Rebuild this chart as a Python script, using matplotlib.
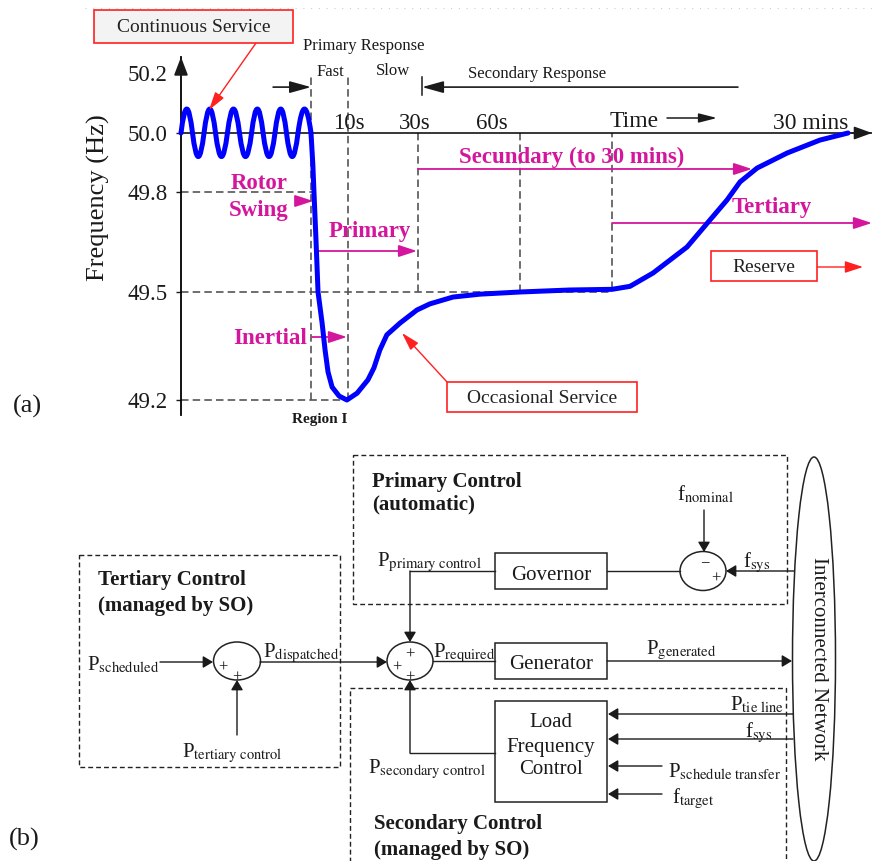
import numpy as np
import matplotlib
matplotlib.use('Agg')
import matplotlib.pyplot as plt
from matplotlib.path import Path
from matplotlib.patches import PathPatch, Rectangle, Ellipse

plt.rcParams['font.family'] = ['Liberation Serif', 'DejaVu Serif']
plt.rcParams['mathtext.fontset'] = 'stix'

# ---------------- (a) frequency response data ----------------
freq_ticks = [49.2, 49.5, 49.8, 50.0, 50.2]
freq_labels = ['49.2', '49.5', '49.8', '50.0', '50.2']

# continuous service: zero crossings (s) and the peak of each half wave (Hz)
osc_cross_t = [-35, -31.9, -28.8, -25.7, -22.5, -19.25, -16.0, -12.9, -9.7, -6.6, -3.5, 0]
osc_peak_f = [50.08, 49.92, 50.08, 49.92, 50.08, 49.92, 50.08, 49.92, 50.08, 49.92, 50.08]

# frequency after the event (s, Hz)
event_t = [0, 0.5, 0.8, 1.35, 1.9, 3.0, 3.8, 4.6, 5.7, 7.6,
           9.7, 12.6, 15.7, 17.4, 19.1, 21.1, 24.9, 29.7, 33.5, 40.3,
           48.2, 60, 190, 300, 414, 560, 775, 920, 1028, 1110,
           1218, 1408, 1616, 1794]
event_f = [50.0, 49.892, 49.80, 49.656, 49.5, 49.414, 49.339, 49.278, 49.236, 49.211,
           49.2, 49.219, 49.256, 49.289, 49.339, 49.381, 49.414, 49.45, 49.467, 49.486,
           49.494, 49.5, 49.506, 49.508, 49.517, 49.557, 49.635, 49.716, 49.776, 49.834,
           49.881, 49.932, 49.976, 50.0]

# dashed guides
guide_f = [49.8, 49.5, 49.2]
guide_f_end = [1, 300, 10]
guide_t = [0, 10, 30, 60, 300]
guide_t_low = [49.2, 49.2, 49.5, 49.5, 49.508]
guide_t_high = [50.187, 50.187, 50.0, 50.0, 50.0]

time_labels = ['10s', '30s', '60s', '30 mins']

# the drawing's axes are not linear: piecewise maps to figure pixels
T_BP = [-100, -35, 0, 10, 30, 60, 300, 1800, 5000]
T_PX = [-60, 181, 311, 348, 418, 520, 612, 849, 1355]
F_BP = [48.5, 49.2, 49.5, 49.8, 50.0, 50.2, 51.0]
F_PX = [652, 400, 292, 192, 133, 73, -167]


def t_fwd(t):
    return np.interp(np.asarray(t, float), T_BP, T_PX)


def t_inv(p):
    return np.interp(np.asarray(p, float), T_PX, T_BP)


def f_fwd(f):
    return -np.interp(np.asarray(f, float), F_BP, F_PX)


def f_inv(p):
    return np.interp(-np.asarray(p, float), F_PX[::-1], F_BP[::-1])


BLUE = '#0000ff'
MAG = '#d4169c'
RED = '#ff2020'
GUIDE = '#555555'
INK = '#1a1a1a'


def arrow(a, p0, p1, color=INK, lw=1.0, hl=0.6, hw=0.36, coords='data', **kw):
    a.annotate('', xy=p1, xytext=p0, xycoords=coords, textcoords=coords,
               annotation_clip=False,
               arrowprops=dict(arrowstyle=f'-|>,head_length={hl},head_width={hw}',
                               color=color, lw=lw, shrinkA=0, shrinkB=0,
                               mutation_scale=10), **kw)


W, H = 872, 861
fig = plt.figure(figsize=(W / 100, H / 100), dpi=100)

ax = fig.add_axes([181 / W, 1 - 415 / H, 691 / W, 358 / H], zorder=1)
ax.set_xscale('function', functions=(t_fwd, t_inv))
ax.set_yscale('function', functions=(f_fwd, f_inv))
ax.set_xlim(-35, float(t_inv(872)))
ax.set_ylim(float(f_inv(-415)), float(f_inv(-57)))
ax.patch.set_alpha(0)
for s in ['top', 'right']:
    ax.spines[s].set_visible(False)
ax.spines['bottom'].set_position(('data', 50.0))
ax.spines['left'].set_linewidth(1.3)
ax.spines['bottom'].set_linewidth(1.1)
ax.set_xticks([])
ax.set_yticks(freq_ticks)
ax.set_yticklabels(freq_labels, fontsize=16.5)
ax.tick_params(axis='y', direction='out', length=3.5, width=1, pad=6, colors=INK)

# axis arrow heads
arrow(ax, (0, 0.96), (0, 1.0), lw=1.3, hl=1.1, hw=0.42, coords='axes fraction')
arrow(ax, (0.97, 50.0), (1.0, 50.0), lw=1.1, hl=1.1, hw=0.4,
      coords=('axes fraction', 'data'))

# guides
dash = (0, (4.5, 2.5))
ax.hlines(guide_f, -35, guide_f_end, colors=GUIDE, lw=1.2, linestyles=dash, zorder=2)
ax.vlines(guide_t, guide_t_low, guide_t_high, colors=GUIDE, lw=1.2, linestyles=dash, zorder=2)

# continuous service oscillation as quadratic arcs
verts = [(osc_cross_t[0], 50.0)]
codes = [Path.MOVETO]
for i, pk in enumerate(osc_peak_f):
    tm = (osc_cross_t[i] + osc_cross_t[i + 1]) / 2
    verts += [(tm, 2 * pk - 50.0), (osc_cross_t[i + 1], 50.0)]
    codes += [Path.CURVE3, Path.CURVE3]
ax.add_patch(PathPatch(Path(verts, codes), fill=False, ec=BLUE, lw=3.6,
                       capstyle='round', joinstyle='round', zorder=4, clip_on=False))
ax.plot(event_t, event_f, color=BLUE, lw=3.6, solid_joinstyle='round',
        solid_capstyle='round', zorder=4, clip_on=False)

# magenta service arrows
mag_kw = dict(color=MAG, lw=1.3, hl=1.1, hw=0.36)
arrow(ax, (-3.8, 49.773), (0.6, 49.773), **mag_kw)
arrow(ax, (1.9, 49.623), (29.7, 49.623), **mag_kw)
arrow(ax, (0.3, 49.375), (9.7, 49.375), **mag_kw)
arrow(ax, (30, 49.878), (1186, 49.878), **mag_kw)
arrow(ax, (300, 49.707), (1945, 49.707), **mag_kw)

# response spans at the top
arrow(ax, (-10.2, 50.153), (0, 50.153), lw=1.2, hl=1.3, hw=0.36)
arrow(ax, (1097, 50.153), (31.2, 50.153), lw=1.2, hl=1.3, hw=0.36)
ax.plot([31.2, 31.2], [50.127, 50.187], color=INK, lw=1.1, clip_on=False)

# ---------------- overlay in pixel coordinates ----------------
ov = fig.add_axes([0, 0, 1, 1], zorder=3)
ov.set_xlim(0, W)
ov.set_ylim(H, 0)
ov.axis('off')

ov.plot([85, 872], [8, 8], color='#cccccc', lw=0.8, ls=(0, (1, 6)))

ov.text(98, 198, 'Frequency (Hz)', rotation=90, ha='center', va='center', fontsize=19, color=INK)
ov.text(27, 413, '(a)', ha='center', va='baseline', fontsize=19, color=INK)

for lab, x in zip(time_labels, [349, 415, 492, 811]):
    ov.text(x, 129, lab, ha='center', va='baseline', fontsize=16.5 if 's' == lab[-1] and len(lab) < 4 else 17, color=INK)
ov.text(610, 127, 'Time', ha='left', va='baseline', fontsize=17, color=INK)
arrow(ov, (667, 118), (717, 118), lw=1.1, hl=1.1, hw=0.28)

small = dict(fontsize=12, color=INK, va='baseline', ha='center')
ov.text(364, 50, 'Primary Response', **small)
ov.text(330, 76, 'Fast', **small)
ov.text(393, 75, 'Slow', **small)
ov.text(537, 78, 'Secondary Response', **small)
ov.text(320, 423, 'Region I', fontsize=11, fontweight='bold', color=INK, ha='center', va='baseline')

mtxt = dict(fontsize=16.5, fontweight='bold', color=MAG, ha='center', va='baseline')
ov.text(259, 189, 'Rotor', **mtxt)
ov.text(259, 216, 'Swing', **mtxt)
ov.text(370, 237, 'Primary', **mtxt)
ov.text(270, 344, 'Inertial', **mtxt)
ov.text(572, 163, 'Secundary (to 30 mins)', **mtxt)
ov.text(772, 213, 'Tertiary', **mtxt)

# red callouts
for (x0, y0, x1, y1, fc, txt, base) in [
        (94, 10, 293, 43, '#f3f3f3', 'Continuous Service', 32),
        (447, 382, 637, 412, 'white', 'Occasional Service', 403),
        (711, 251, 817, 281, 'white', 'Reserve', 272)]:
    ov.add_patch(Rectangle((x0, y0), x1 - x0, y1 - y0, fc=fc, ec=RED, lw=1.2, zorder=5))
    ov.text((x0 + x1) / 2, base, txt, ha='center', va='baseline', fontsize=14,
            color='#222222', zorder=6)
arrow(ov, (256, 43), (209, 110), color=RED, lw=1.0, hl=1.1, hw=0.32)
arrow(ov, (447, 382), (402, 333), color=RED, lw=1.0, hl=1.1, hw=0.32)
arrow(ov, (817, 267), (863, 267), color=RED, lw=1.0, hl=1.1, hw=0.36)

# ---------------- (b) control block diagram ----------------
dash_box = dict(fill=False, ec='#222222', lw=1.0, ls=(0, (3.5, 2.2)))
for x0, y0, x1, y1 in [(353, 455, 787, 604), (79, 555, 340, 767), (350, 688, 786, 900)]:
    ov.add_patch(Rectangle((x0, y0), x1 - x0, y1 - y0, **dash_box))

for x0, y0, x1, y1 in [(495, 553, 607, 589), (495, 643, 607, 679), (495, 701, 607, 802)]:
    ov.add_patch(Rectangle((x0, y0), x1 - x0, y1 - y0, fill=False, ec='#222222', lw=1.1))

for cx, cy, w, h in [(703, 571, 46, 39), (410, 661, 46, 38), (237, 661, 47, 38), (814, 659, 43, 404)]:
    ov.add_patch(Ellipse((cx, cy), w, h, fill=False, ec='#222222', lw=1.1))

ln = dict(color='#222222', lw=1.0)
ov.plot([607, 680], [571, 571], **ln)
ov.plot([495, 410], [571, 571], **ln)
arrow(ov, (410, 571), (410, 642))
arrow(ov, (704, 510), (704, 552))
arrow(ov, (794, 571), (726, 571))
arrow(ov, (160, 662), (213, 662))
arrow(ov, (237, 735), (237, 680))
arrow(ov, (260, 662), (387, 662))
ov.plot([433, 495], [661, 661], **ln)
arrow(ov, (607, 661), (792, 661))
ov.plot([495, 410], [753, 753], **ln)
arrow(ov, (410, 753), (410, 680))
arrow(ov, (793, 714), (608, 714))
arrow(ov, (793, 739), (608, 739))
arrow(ov, (662, 766), (608, 766))
arrow(ov, (662, 794), (608, 794))

bold = dict(fontsize=15, fontweight='bold', color=INK, ha='left', va='baseline')
ov.text(372, 487, 'Primary Control', **bold)
ov.text(372, 509, '(automatic)', **bold)
ov.text(98, 585, 'Tertiary Control', **bold)
ov.text(98, 611, '(managed by SO)', **bold)
ov.text(374, 829, 'Secondary Control', **bold)
ov.text(374, 855, '(managed by SO)', **bold)

blk = dict(fontsize=15, color=INK, ha='center', va='baseline')
ov.text(551, 580, 'Governor', **blk)
ov.text(551, 669, 'Generator', **blk)
ov.text(551, 727, 'Load', **blk)
ov.text(551, 752, 'Frequency', **blk)
ov.text(551, 774, 'Control', **blk)

sig = dict(fontsize=15, color=INK, ha='left', va='baseline')
for txt, x, y in [
        (r'f$_{\rm nominal}$', 677, 500),
        (r'P$_{\rm primary\ control}$', 377, 566),
        (r'f$_{\rm sys}$', 743, 567),
        (r'P$_{\rm required}$', 433, 657),
        (r'P$_{\rm dispatched}$', 263, 657),
        (r'P$_{\rm scheduled}$', 87, 670),
        (r'P$_{\rm tertiary\ control}$', 182, 757),
        (r'P$_{\rm secondary\ control}$', 368, 773),
        (r'P$_{\rm generated}$', 646, 654),
        (r'P$_{\rm tie\ line}$', 730, 710),
        (r'f$_{\rm sys}$', 745, 737),
        (r'P$_{\rm schedule\ transfer}$', 668, 777),
        (r'f$_{\rm target}$', 672, 803)]:
    ov.text(x, y, txt, **sig)

for s, x, y in [('+', 223, 667), ('+', 237, 677), ('+', 410, 654), ('+', 397, 667),
                ('+', 410, 677), ('\u2212', 705, 563), ('+', 716, 578)]:
    ov.text(x, y + 4.5, s, fontsize=12, color=INK, ha='center', va='baseline')

ov.text(818, 659, 'Interconnected Network', rotation=-90, ha='center', va='center',
        fontsize=15, color=INK)
ov.text(24, 846, '(b)', ha='center', va='baseline', fontsize=19, color=INK)

fig.savefig('out.png', dpi=100)
